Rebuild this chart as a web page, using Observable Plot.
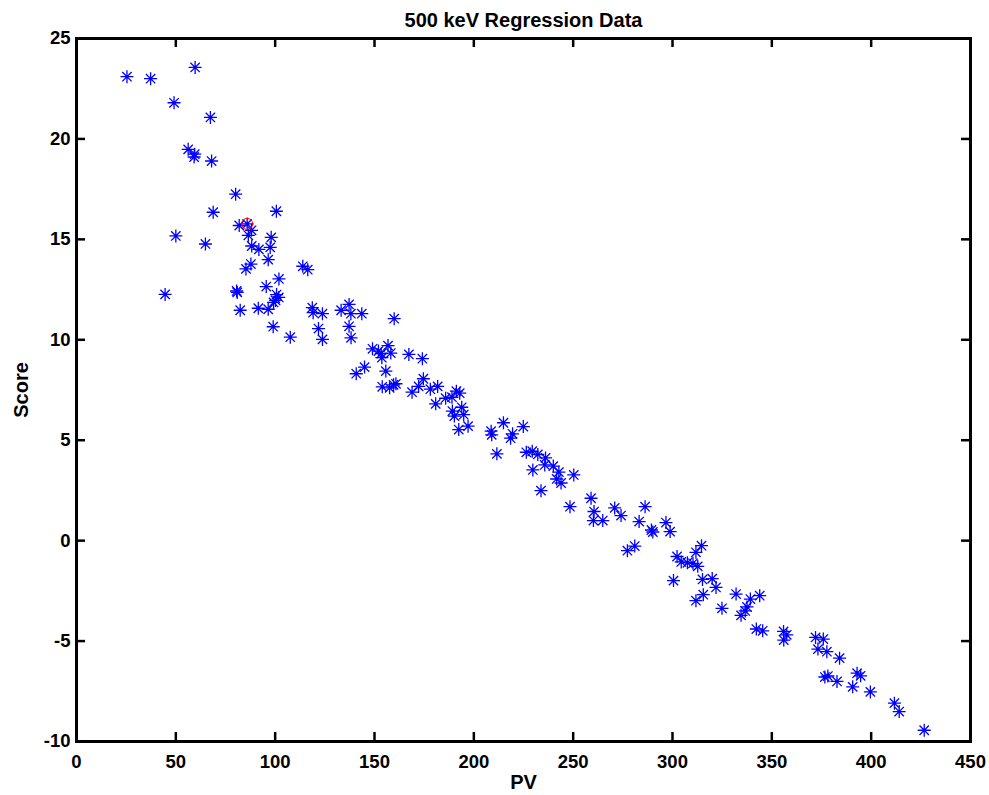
<!DOCTYPE html>
<html>
<head>
<meta charset="utf-8">
<script src="https://cdn.jsdelivr.net/npm/d3@7"></script>
<script src="https://cdn.jsdelivr.net/npm/@observablehq/plot@0.6"></script>
<style>
  html, body { margin: 0; padding: 0; background: #fff; }
  svg { display: block; }
</style>
</head>
<body>
<div id="chart"></div>
<script>
const titleText = "500 keV Regression Data";
const xLabel = "PV";
const yLabel = "Score";
const xTicks = [0, 50, 100, 150, 200, 250, 300, 350, 400, 450];
const yTicks = [-10, -5, 0, 5, 10, 15, 20, 25];

const pv = [25.4, 37.3, 59.7, 49.1, 67.4, 56.2, 59.5, 59.2, 68.0, 80.1,
  68.8, 100.6, 85.9, 81.9, 88.1, 86.5, 98.0, 50.0, 64.9, 88.2,
  91.8, 97.5, 96.5, 87.8, 85.3, 113.9, 116.4, 101.9, 95.5, 80.6,
  80.9, 44.6, 100.7, 101.8, 100.2, 99.2, 118.7, 119.1, 82.4, 91.5,
  96.5, 99.0, 107.6, 121.8, 123.8, 123.8, 133.2, 137.2, 138.1, 143.6,
  137.2, 138.2, 159.9, 149.0, 152.0, 153.4, 156.8, 158.2, 153.7, 167.3,
  174.1, 145.0, 140.8, 155.7, 153.9, 157.6, 159.6, 160.8, 174.6, 172.2,
  168.9, 178.1, 181.8, 180.8, 185.8, 189.0, 191.2, 192.9, 193.9, 189.2,
  190.2, 194.9, 197.1, 192.4, 208.7, 209.0, 214.9, 219.5, 218.5, 224.9,
  211.6, 226.4, 229.4, 232.2, 236.1, 235.7, 229.7, 233.8, 240.0, 242.8,
  241.7, 243.9, 250.3, 248.4, 259.0, 260.5, 260.2, 264.9, 270.9, 274.1,
  286.2, 283.2, 289.4, 290.1, 296.7, 298.8, 281.0, 277.3, 314.6, 311.8,
  302.3, 304.4, 307.5, 310.3, 312.7, 300.5, 315.1, 320.0, 321.9, 315.5,
  311.8, 324.9, 332.0, 334.5, 336.6, 339.2, 343.9, 337.5, 342.2, 345.4,
  355.9, 357.5, 356.0, 372.0, 375.9, 373.2, 377.7, 384.1, 376.7, 378.2,
  382.8, 390.7, 392.9, 394.7, 399.6, 411.7, 414.1, 426.7];
const score = [23.1, 23.0, 23.56, 21.8, 21.07, 19.48, 19.24, 19.1, 18.9, 17.25,
  16.35, 16.4, 15.77, 15.69, 15.45, 15.2, 15.1, 15.17, 14.77, 14.67,
  14.5, 14.6, 13.99, 13.77, 13.53, 13.66, 13.49, 13.03, 12.65, 12.43,
  12.36, 12.26, 12.25, 12.11, 11.96, 11.86, 11.6, 11.35, 11.47, 11.57,
  11.52, 10.65, 10.13, 10.56, 11.3, 10.02, 11.47, 11.76, 11.3, 11.3,
  10.67, 10.1, 11.05, 9.55, 9.44, 9.31, 9.71, 9.34, 9.11, 9.27,
  9.06, 8.64, 8.31, 8.44, 7.66, 7.61, 7.76, 7.81, 8.06, 7.68,
  7.39, 7.54, 7.68, 6.81, 7.09, 7.14, 7.44, 7.34, 6.64, 6.45,
  6.2, 6.27, 5.7, 5.53, 5.45, 5.27, 5.87, 5.32, 5.1, 5.68,
  4.32, 4.4, 4.45, 4.29, 4.12, 3.77, 3.52, 2.49, 3.71, 3.41,
  3.07, 2.87, 3.27, 1.69, 2.11, 1.45, 1.0, 1.0, 1.63, 1.25,
  1.69, 0.95, 0.53, 0.43, 0.9, 0.45, -0.27, -0.5, -0.25, -0.58,
  -0.79, -1.06, -1.1, -1.13, -1.28, -1.99, -1.93, -1.89, -2.33, -2.69,
  -2.99, -3.37, -2.66, -3.72, -3.5, -2.91, -2.74, -3.3, -4.4, -4.49,
  -4.52, -4.69, -4.95, -4.82, -4.9, -5.4, -5.53, -5.85, -6.79, -6.74,
  -7.01, -7.28, -6.6, -6.73, -7.53, -8.09, -8.51, -9.44];

const highlightPV = [85.9];
const highlightScore = [15.77];

const points = pv.map((x, i) => ({x, y: score[i]}));
const highlight = highlightPV.map((x, i) => ({x, y: highlightScore[i]}));

const W = 989, H = 795;
const mL = 76, mR = 19, mT = 38, mB = 54;
const frameW = W - mL - mR, frameH = H - mT - mB;
const tickLen = 9;

const asterisk = {
  draw(context, size) {
    const r = Math.sqrt(size / Math.PI);
    const d = r * 0.72;
    context.moveTo(-r, 0); context.lineTo(r, 0);
    context.moveTo(0, -r); context.lineTo(0, r);
    context.moveTo(-d, -d); context.lineTo(d, d);
    context.moveTo(-d, d); context.lineTo(d, -d);
  }
};

const font = "'Liberation Sans', Arial, Helvetica, sans-serif";

const chart = Plot.plot({
  width: W,
  height: H,
  marginLeft: mL, marginRight: mR, marginTop: mT, marginBottom: mB,
  style: {fontFamily: font, fontWeight: "bold", fontSize: "18.5px", color: "black", background: "white"},
  x: {domain: [0, 450]},
  y: {domain: [-10, 25]},
  marks: [
    Plot.dot(points, {x: "x", y: "y", symbol: asterisk, r: 6.5, stroke: "#0000ff", strokeWidth: 1.3, fill: "none"}),
    Plot.dot(highlight, {x: "x", y: "y", r: 5.5, stroke: "red", strokeWidth: 1, fill: "none"}),
    Plot.ruleX(xTicks, {x: d => d, insetTop: frameH - tickLen, stroke: "black", strokeWidth: 2.5}),
    Plot.ruleX(xTicks, {x: d => d, insetBottom: frameH - tickLen, stroke: "black", strokeWidth: 2.5}),
    Plot.ruleY(yTicks, {y: d => d, insetRight: frameW - tickLen, stroke: "black", strokeWidth: 2.5}),
    Plot.ruleY(yTicks, {y: d => d, insetLeft: frameW - tickLen, stroke: "black", strokeWidth: 2.5}),
    Plot.frame({stroke: "black", strokeWidth: 3}),
    Plot.axisX({ticks: xTicks, tickSize: 0, tickPadding: 13, tickFormat: d => String(d), fontSize: 18.5, fontWeight: "bold", label: null}),
    Plot.axisX({ticks: [], tickSize: 0, label: xLabel, labelAnchor: "center", labelArrow: "none", labelOffset: 47, fontSize: 20, fontWeight: "bold"}),
    Plot.axisY({ticks: yTicks, tickSize: 0, tickPadding: 6, tickFormat: d => String(d), fontSize: 18.5, fontWeight: "bold", label: null}),
    Plot.axisY({ticks: [], tickSize: 0, label: yLabel, labelAnchor: "center", labelArrow: "none", labelOffset: 63, fontSize: 20, fontWeight: "bold"}),
    Plot.text([titleText], {text: d => d, frameAnchor: "top", dy: -26, fontSize: 20, fontWeight: "bold", fill: "black"})
  ]
});
document.getElementById("chart").appendChild(chart);
</script>
</body>
</html>
